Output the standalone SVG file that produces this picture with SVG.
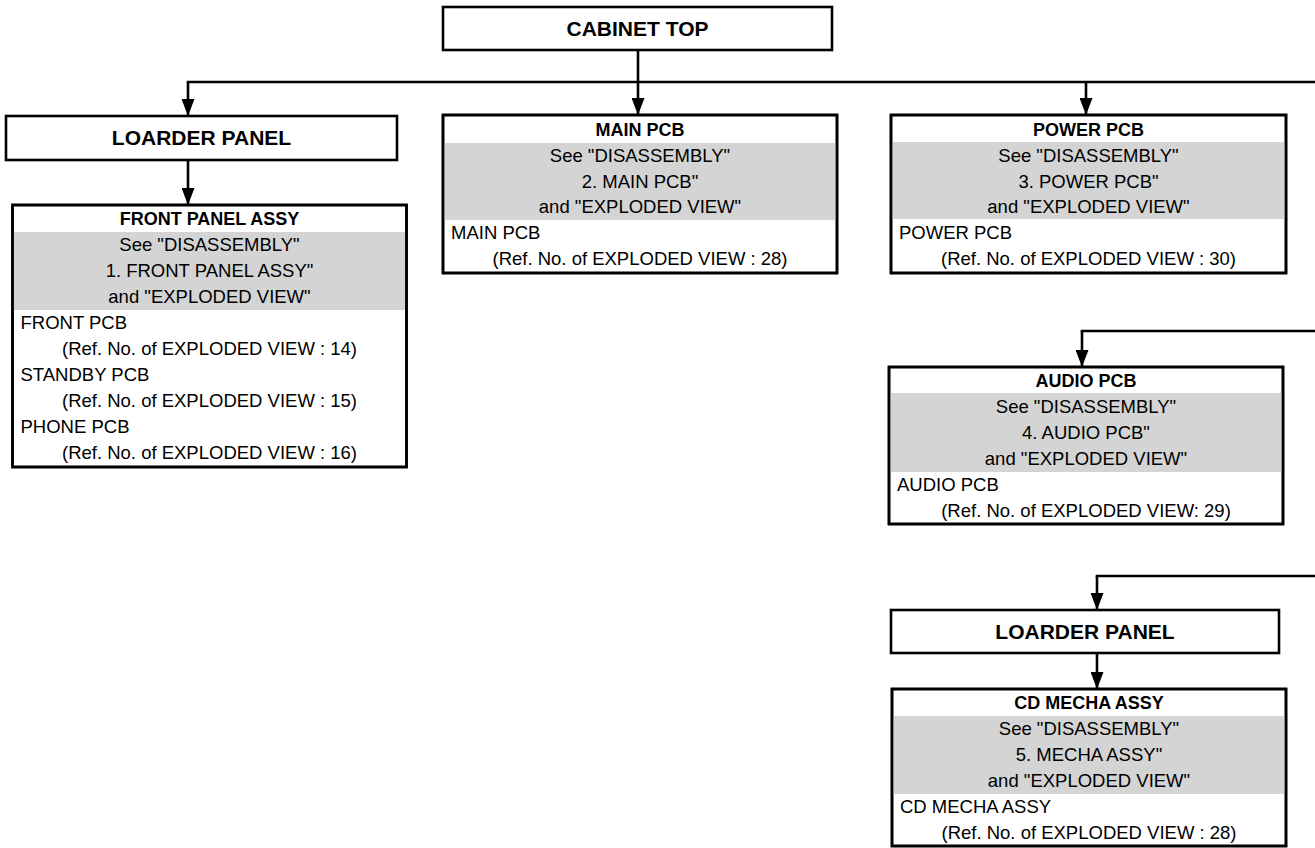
<svg xmlns="http://www.w3.org/2000/svg" width="1315" height="848" viewBox="0 0 1315 848">
<defs>
<style>
.box{fill:#fff;stroke:#000;stroke-width:2.6}
.frame{fill:none;stroke:#000;stroke-width:2.6}
.gray{fill:#d4d4d4}
.big{font-family:"Liberation Sans",Arial,sans-serif;font-weight:bold;font-size:21px;text-anchor:middle;fill:#000}
.ttl{font-family:"Liberation Sans",Arial,sans-serif;font-weight:bold;font-size:18px;text-anchor:middle;fill:#000}
.c{font-family:"Liberation Sans",Arial,sans-serif;font-size:18.5px;text-anchor:middle;fill:#000}
.l{font-family:"Liberation Sans",Arial,sans-serif;font-size:18.5px;fill:#000}
.conn{fill:none;stroke:#000;stroke-width:2.6}
</style>
<marker id="arr" viewBox="0 0 17 13" markerWidth="17" markerHeight="13" refX="17" refY="6.5" orient="auto" markerUnits="userSpaceOnUse">
<path d="M0,0 L17,6.5 L0,13 z" fill="#000"/>
</marker>
</defs>
<rect width="1315" height="848" fill="#fff"/>

<g id="connectors">
<line class="conn" x1="638" y1="50" x2="638" y2="115" marker-end="url(#arr)"/>
<line class="conn" x1="186.7" y1="82" x2="1315" y2="82"/>
<line class="conn" x1="188" y1="82" x2="188" y2="116" marker-end="url(#arr)"/>
<line class="conn" x1="1086" y1="82" x2="1086" y2="115" marker-end="url(#arr)"/>
<line class="conn" x1="188" y1="160" x2="188" y2="205" marker-end="url(#arr)"/>
<line class="conn" x1="1080.7" y1="331" x2="1315" y2="331"/>
<line class="conn" x1="1082" y1="331" x2="1082" y2="367" marker-end="url(#arr)"/>
<line class="conn" x1="1095.7" y1="576" x2="1315" y2="576"/>
<line class="conn" x1="1097" y1="576" x2="1097" y2="610" marker-end="url(#arr)"/>
<line class="conn" x1="1097" y1="653" x2="1097" y2="689" marker-end="url(#arr)"/>
</g>

<g id="cabinet-top">
<rect class="box" x="443" y="7" width="389" height="43"/>
<text class="big" x="637.5" y="36">CABINET TOP</text>
</g>

<g id="loarder-panel-left">
<rect class="box" x="6" y="116" width="391" height="44"/>
<text class="big" x="201.5" y="145">LOARDER PANEL</text>
</g>

<g id="front-panel-assy">
<rect class="box" x="12.5" y="205" width="394" height="262"/>
<rect class="gray" x="13.8" y="232" width="391.4" height="78"/>
<rect class="frame" x="12.5" y="205" width="394" height="262"/>
<text class="ttl" x="209.5" y="225">FRONT PANEL ASSY</text>
<text class="c" x="209.5" y="251">See "DISASSEMBLY"</text>
<text class="c" x="209.5" y="277">1. FRONT PANEL ASSY"</text>
<text class="c" x="209.5" y="303">and "EXPLODED VIEW"</text>
<text class="l" x="20.5" y="329">FRONT PCB</text>
<text class="c" x="209.5" y="355">(Ref. No. of EXPLODED VIEW : 14)</text>
<text class="l" x="20.5" y="381">STANDBY PCB</text>
<text class="c" x="209.5" y="407">(Ref. No. of EXPLODED VIEW : 15)</text>
<text class="l" x="20.5" y="433">PHONE PCB</text>
<text class="c" x="209.5" y="459">(Ref. No. of EXPLODED VIEW : 16)</text>
</g>

<g id="main-pcb">
<rect class="box" x="443" y="115" width="394" height="158"/>
<rect class="gray" x="444.3" y="143" width="391.4" height="77"/>
<rect class="frame" x="443" y="115" width="394" height="158"/>
<text class="ttl" x="640" y="136">MAIN PCB</text>
<text class="c" x="640" y="162">See "DISASSEMBLY"</text>
<text class="c" x="640" y="188">2. MAIN PCB"</text>
<text class="c" x="640" y="213">and "EXPLODED VIEW"</text>
<text class="l" x="451" y="239">MAIN PCB</text>
<text class="c" x="640" y="265">(Ref. No. of EXPLODED VIEW : 28)</text>
</g>

<g id="power-pcb">
<rect class="box" x="891" y="115" width="395" height="158"/>
<rect class="gray" x="892.3" y="142" width="392.4" height="77"/>
<rect class="frame" x="891" y="115" width="395" height="158"/>
<text class="ttl" x="1088.5" y="136">POWER PCB</text>
<text class="c" x="1088.5" y="162">See "DISASSEMBLY"</text>
<text class="c" x="1088.5" y="188">3. POWER PCB"</text>
<text class="c" x="1088.5" y="213">and "EXPLODED VIEW"</text>
<text class="l" x="899" y="239">POWER PCB</text>
<text class="c" x="1088.5" y="265">(Ref. No. of EXPLODED VIEW : 30)</text>
</g>

<g id="audio-pcb">
<rect class="box" x="889" y="367" width="394" height="157"/>
<rect class="gray" x="890.3" y="393" width="391.4" height="79"/>
<rect class="frame" x="889" y="367" width="394" height="157"/>
<text class="ttl" x="1086" y="387">AUDIO PCB</text>
<text class="c" x="1086" y="413">See "DISASSEMBLY"</text>
<text class="c" x="1086" y="439">4. AUDIO PCB"</text>
<text class="c" x="1086" y="465">and "EXPLODED VIEW"</text>
<text class="l" x="897" y="491">AUDIO PCB</text>
<text class="c" x="1086" y="517">(Ref. No. of EXPLODED VIEW: 29)</text>
</g>

<g id="loarder-panel-right">
<rect class="box" x="891" y="610" width="388" height="43"/>
<text class="big" x="1085" y="639">LOARDER PANEL</text>
</g>

<g id="cd-mecha-assy">
<rect class="box" x="892" y="689" width="394" height="157"/>
<rect class="gray" x="893.3" y="716" width="391.4" height="78"/>
<rect class="frame" x="892" y="689" width="394" height="157"/>
<text class="ttl" x="1089" y="709">CD MECHA ASSY</text>
<text class="c" x="1089" y="735">See "DISASSEMBLY"</text>
<text class="c" x="1089" y="761">5. MECHA ASSY"</text>
<text class="c" x="1089" y="787">and "EXPLODED VIEW"</text>
<text class="l" x="900" y="813">CD MECHA ASSY</text>
<text class="c" x="1089" y="839">(Ref. No. of EXPLODED VIEW : 28)</text>
</g>
</svg>
